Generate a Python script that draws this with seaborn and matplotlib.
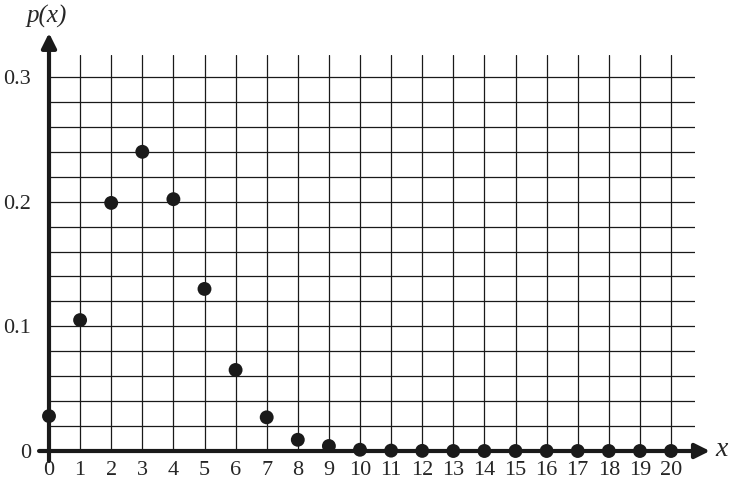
import matplotlib
matplotlib.use("Agg")
import matplotlib.pyplot as plt
import numpy as np
import seaborn as sns

# values
x_vals = list(range(21))
p_vals = [0.028, 0.105, 0.199, 0.240, 0.202, 0.130, 0.065, 0.027, 0.009, 0.004,
          0.001, 0.0003, 0.0001, 0.0, 0.0, 0.0, 0.0, 0.0, 0.0, 0.0, 0.0]
y_major = [0, 0.1, 0.2, 0.3]
y_major_labels = ["0", "0.1", "0.2", "0.3"]

sns.set_style("white")
plt.rcParams["font.family"] = ["Liberation Serif", "DejaVu Serif"]

W, H = 733, 493
fig = plt.figure(figsize=(W / 100, H / 100), dpi=100)
# pixel geometry of the plot area
x0_px, x20_px, xr_px = 49, 671, 695
y0_px, ytop_px = 451, 55
ax = fig.add_axes([x0_px / W, 1 - y0_px / H, (xr_px - x0_px) / W, (y0_px - ytop_px) / H])
x_right = (xr_px - x0_px) / ((x20_px - x0_px) / 20)
per_unit = (y0_px - 77) / 0.3
y_top = (y0_px - ytop_px) / per_unit
ax.set_xlim(0, x_right)
ax.set_ylim(0, y_top)

for s in ax.spines.values():
    s.set_visible(False)

ax.set_xticks(x_vals)
ax.set_xticklabels([str(v) for v in x_vals], fontsize=16)
ax.set_yticks(y_major)
ax.set_yticklabels(y_major_labels, fontsize=16)
ax.set_yticks(np.arange(0, 0.31, 0.02), minor=True)
ax.tick_params(axis="x", length=0, pad=7)
ax.tick_params(axis="y", which="major", length=7, width=0.9, color="#1a1a1a", pad=6)
ax.tick_params(axis="y", which="minor", length=5, width=0.9, color="#1a1a1a")
ax.grid(True, which="both", axis="y", color="#1a1a1a", lw=0.9)
ax.grid(True, which="major", axis="x", color="#1a1a1a", lw=0.9)
ax.set_axisbelow(True)

# thick axes with arrow heads
arrow = dict(arrowstyle="-|>", lw=3, color="#1a1a1a", mutation_scale=22, shrinkA=0, shrinkB=0)
ax.annotate("", xy=(0, (y0_px - 33) / per_unit), xytext=(0, -10 / per_unit),
            arrowprops=arrow, annotation_clip=False, zorder=4)
ax.annotate("", xy=(21.25, 0), xytext=(-0.32, 0),
            arrowprops=arrow, annotation_clip=False, zorder=4)

sns.scatterplot(x=x_vals, y=p_vals, ax=ax, color="#1a1a1a", s=100,
                edgecolor="none", zorder=6, clip_on=False)

fig.text(47 / W, 1 - 16 / H, "p(x)", fontsize=18, style="italic", ha="center", va="center")
fig.text(722 / W, 1 - 449 / H, "x", fontsize=20, style="italic", ha="center", va="center")

fig.savefig("out.png", dpi=100)
